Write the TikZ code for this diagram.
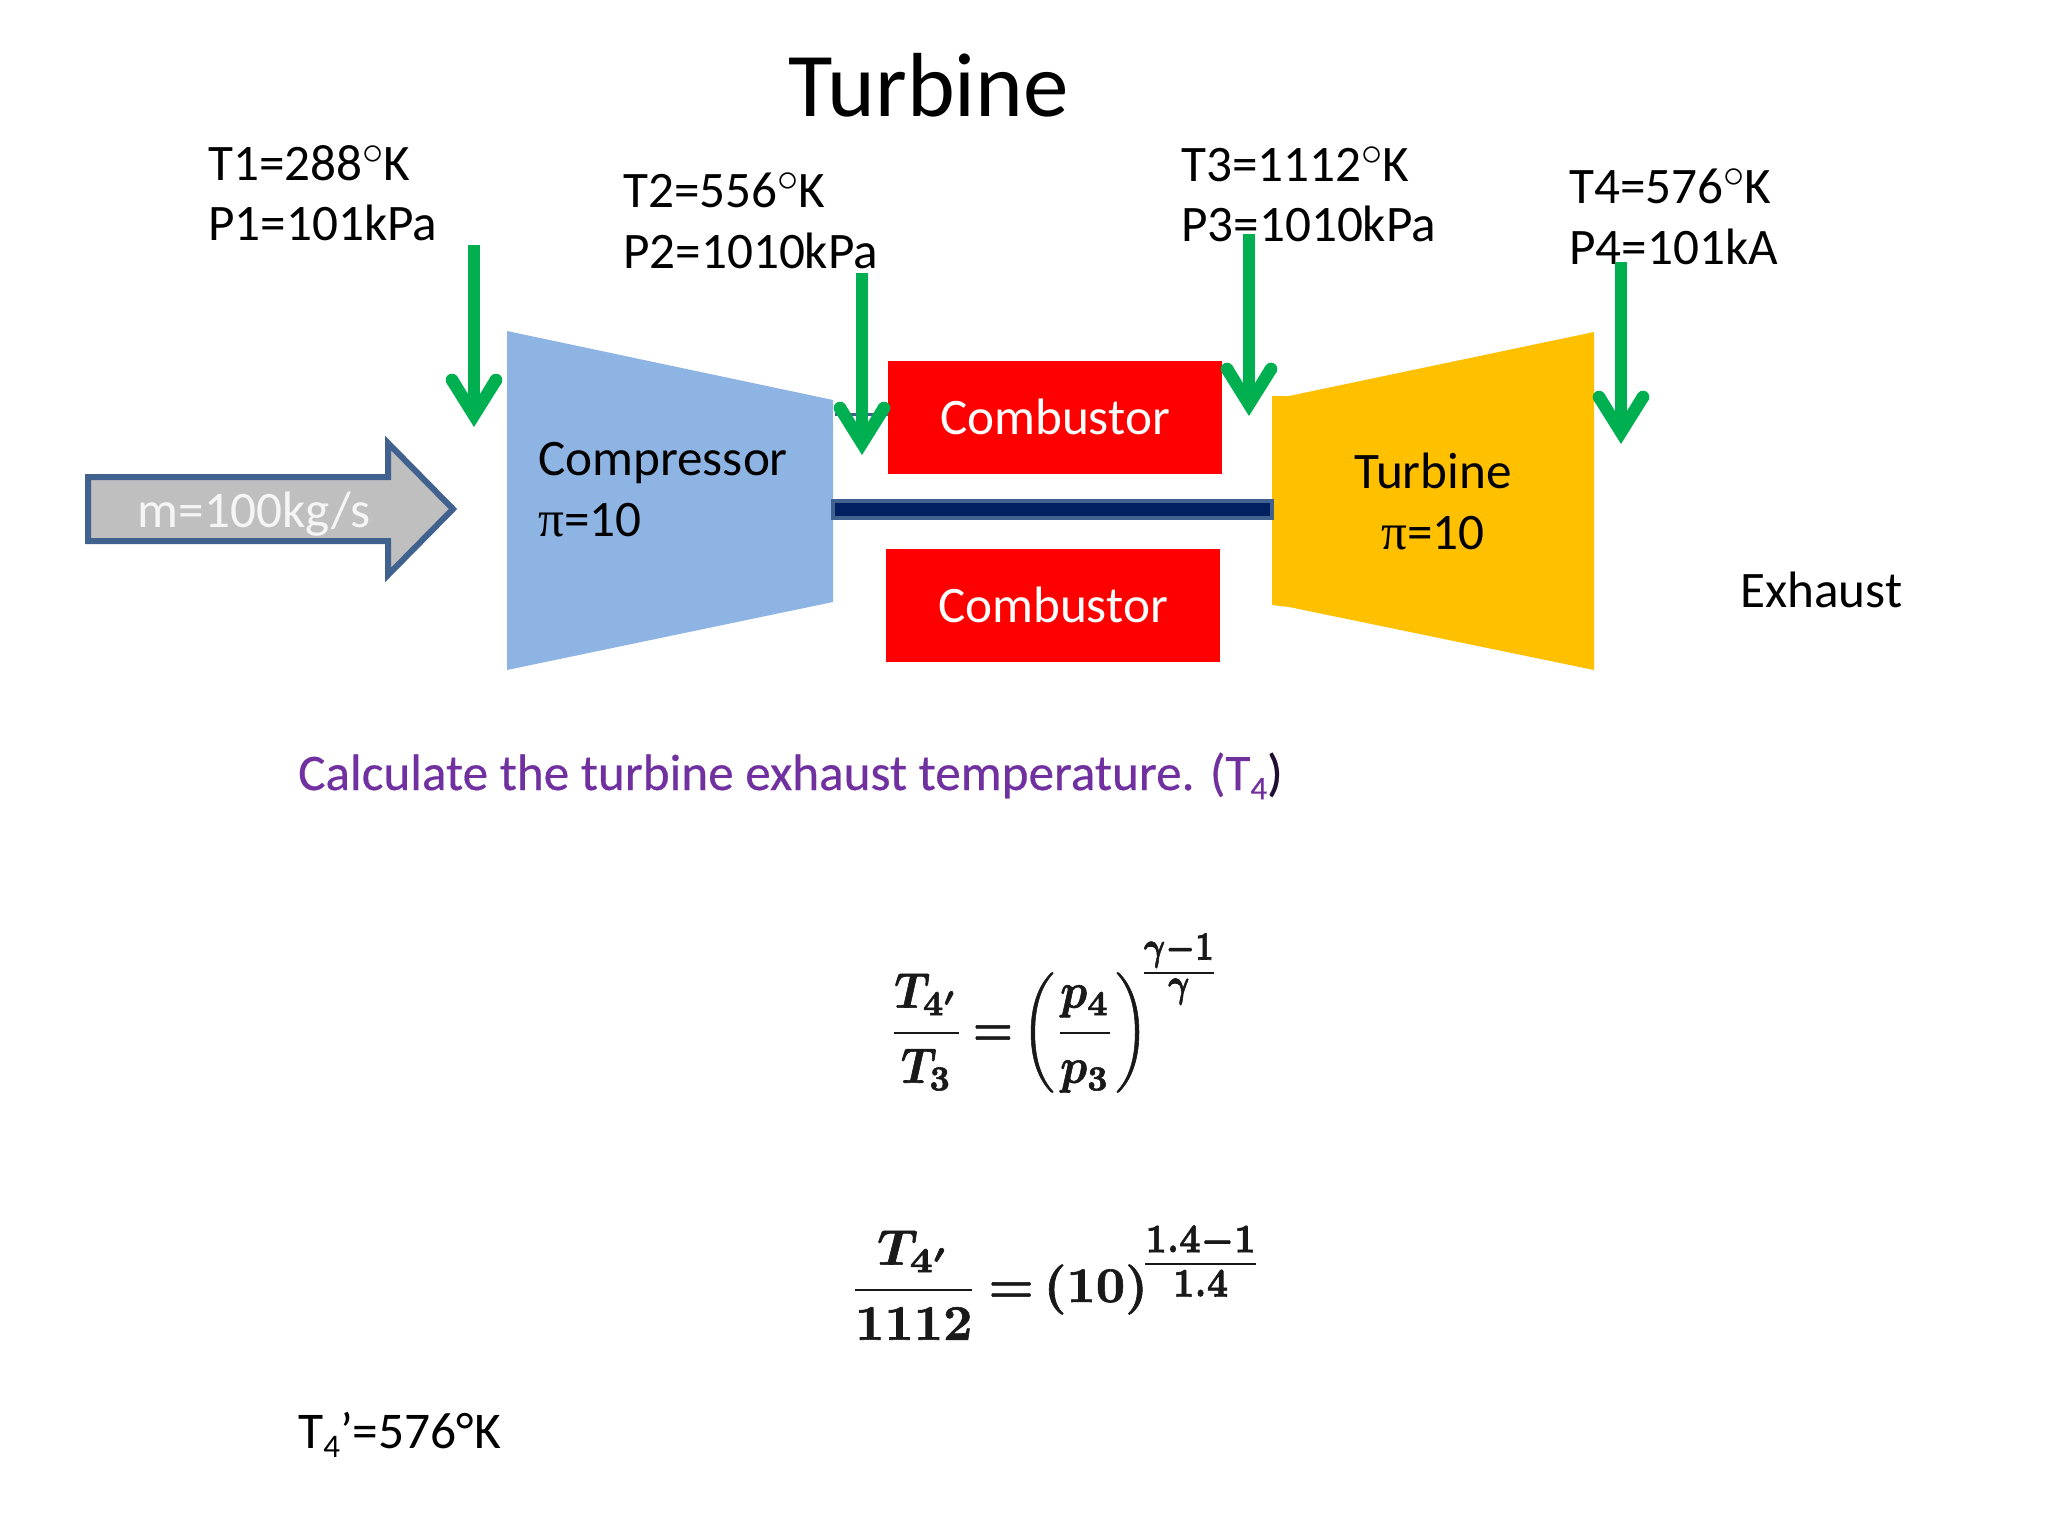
\documentclass[tikz,border=0pt]{standalone}
\usepackage[no-math]{fontspec}
\usepackage{amsmath,graphicx}
\setmainfont{Carlito}
\newfontfamily\piface{Liberation Serif}
\usetikzlibrary{arrows.meta}
\definecolor{cblue}{HTML}{8EB4E3}
\definecolor{corange}{HTML}{FFC000}
\definecolor{cred}{HTML}{FF0000}
\definecolor{cgreen}{HTML}{00B050}
\definecolor{cedge}{HTML}{41628F}
\definecolor{cnavy}{HTML}{002060}
\definecolor{cgrey}{HTML}{BFBFBF}
\definecolor{cpurple}{HTML}{7030A0}
\newcommand{\dg}{\raisebox{.30em}{\scalebox{1.7}{$\circ$}}}
\newcommand{\pii}{{\piface π}}
\newcommand{\heavy}{\special{pdf:code 2 Tr 0.12 w}}
\newcommand{\unheavy}{\special{pdf:code 0 Tr}}
\newcommand{\expo}[3]{\raisebox{#3}{\scalebox{.93}[1.15]{$\vcenter{\halign{\hfil##\hfil\cr
  $\scriptstyle #1$\cr\noalign{\kern.7pt\hrule height.35pt\kern.9pt}$\scriptstyle #2$\cr}}$}}}
\newcommand{\flowhead}[1]{%
  \fill[cgreen,shift={(#1)}] (0,0) -- (27.5,-44) -- (17,-51) -- (6,-33) -- (-6,-33) -- (-17,-51) -- (-27.5,-44) -- cycle;
  \fill[cgreen,shift={(#1)}] (22,-47) circle[radius=6.3pt] (-22,-47) circle[radius=6.3pt];}
\tikzset{
  x=1pt,y=-1pt,
  lbl/.style={anchor=base west,inner sep=0pt,font=\fontsize{51.2}{60}\selectfont,text=black},
  lblc/.style={anchor=base,inner sep=0pt,font=\fontsize{51.2}{60}\selectfont,text=black},
  combox/.style={fill=cred,draw=none,inner sep=0pt,minimum width=334pt,minimum height=113pt,text=white,font=\fontsize{51.2}{60}\selectfont},
  flow/.style={draw=cgreen,line width=12pt,shorten >=20pt},
  eqn/.style={inner sep=0pt,anchor=base west,text=black!90}
}
\begin{document}
\begin{tikzpicture}
\useasboundingbox (0,0) rectangle (2048,1536);
% shapes
\fill[cblue] (507,331) -- (833,400) -- (833,602) -- (507,670) -- cycle;
\fill[corange] (1272,396) -- (1289,396) -- (1594,332) -- (1594,670) -- (1289,607) -- (1272,605) -- cycle;
\node[combox] (comb1) at (1055,417) {Combustor};
\node[combox] (comb2) at (1053,605) {Combustor};
\draw[cedge,line width=3pt] (835,414) -- (comb1.west |- 0,414);
\draw[fill=cnavy,draw=cedge,line width=4pt] (833,501) rectangle (1272,518);
\draw[fill=cgrey,draw=cedge,line width=6pt,line join=miter]
  (88,477) -- (388,477) -- (388,443) -- (453,509) -- (388,575) -- (388,541) -- (88,541) -- cycle;
% title
\node[lblc,font=\fontsize{91}{100}\selectfont] (title) at (929,117) {Turbine};
% state labels
\node[lbl] (t1) at (208,180) {T1=288\dg K};
\node[lbl] (p1) at (208,240) {P1=101kPa};
\node[lbl] (t2) at (623,207) {T2=556\dg K};
\node[lbl] (p2) at (623,268) {P2=1010kPa};
\node[lbl] (t3) at (1181,181) {T3=1112\dg K};
\node[lbl] (p3) at (1181,241) {P3=1010kPa};
\node[lbl] (t4) at (1569,203) {T4=576\dg K};
\node[lbl] (p4) at (1569,264) {P4=101kA};
% component labels
\node[lbl] (cname) at (538,475) {Compressor};
\node[lbl] (cpi) at (538,536) {\pii=10};
\node[lblc] (tname) at (1433,488) {Turbine};
\node[lblc] (tpi) at (1433,549) {\pii=10};
\node[lbl] (ex) at (1740,607) {Exhaust};
\node[lblc,text=white!96!black] (m) at (254,527) {m=100kg/s};
% green flows
\coordinate (a1s) at (474,245); \coordinate (a1e) at (474,427);
\coordinate (a2s) at (862,273); \coordinate (a2e) at (862,455);
\coordinate (a3s) at (1249,234); \coordinate (a3e) at (1249,416);
\coordinate (a4s) at (1621,262); \coordinate (a4e) at (1621,444);
\draw[flow] (a1s) -- (a1e); \flowhead{a1e}
\draw[flow] (a2s) -- (a2e); \flowhead{a2e}
\draw[flow] (a3s) -- (a3e); \flowhead{a3e}
\draw[flow] (a4s) -- (a4e); \flowhead{a4e}
% question
\node[lbl,font={\fontsize{51.2}{56}\selectfont\addfontfeature{FakeBold=0.4}},text=cpurple] (q) at (298,790)
  {Calculate the turbine exhaust temperature. (T\raisebox{-.18em}{\fontsize{33}{33}\selectfont\addfontfeature{FakeBold=0.4} 4}\textcolor{black!70!cpurple}{)}};
% equations
\node[eqn,xscale=4.5,yscale=5] (eq1) at (888,1045) {{\heavy\boldmath$\dfrac{T_{4'}}{T_3}\mkern-2mu=\mkern-2mu\left(\dfrac{p_4}{p_3}\right)^{\mkern-2mu\expo{\gamma-1}{\gamma}{.4pt}}$\unheavy}};
\node[eqn,xscale=5.1,yscale=5] (eq2) at (848,1302) {{\heavy\boldmath$\dfrac{T_{4'}}{1112}\mkern-2mu=\mkern-2mu(10)^{\mkern-1mu\expo{1.4-1}{1.4}{-2.4pt}}$\unheavy}};
% result
\node[lbl,font=\fontsize{51.5}{56}\selectfont] (res) at (298,1448)
  {T\raisebox{-.18em}{\fontsize{33}{33}\selectfont 4}’=576°K};
\end{tikzpicture}
\end{document}
